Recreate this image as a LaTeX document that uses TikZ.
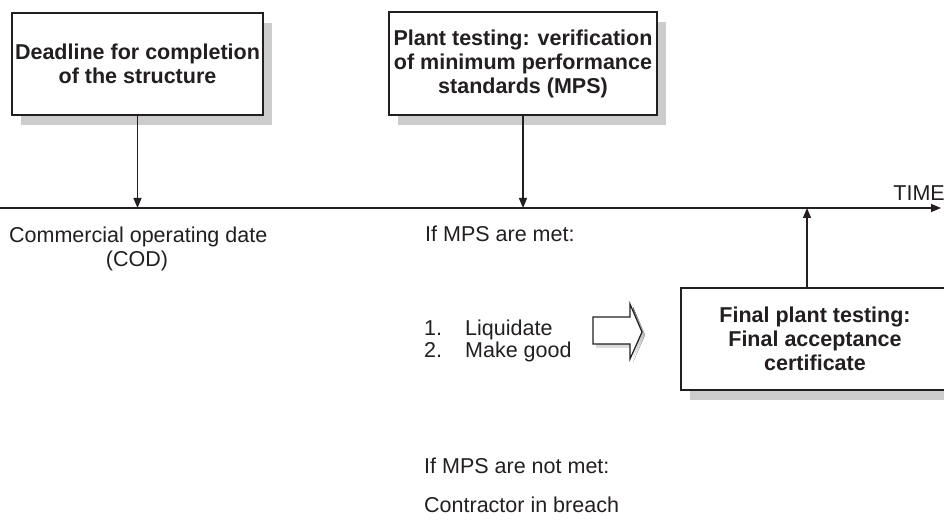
\documentclass[tikz,border=0pt]{standalone}
\usepackage{fontspec}
\setmainfont{Liberation Sans}
\usetikzlibrary{arrows.meta,shadows}
\definecolor{ink}{HTML}{231F20}
\definecolor{shade}{HTML}{CCCCCC}
\begin{document}
\begin{tikzpicture}[x=1pt,y=-1pt,
 font=\fontsize{21.5}{24}\selectfont,
 txt/.style={inner sep=0pt, text=ink},
 box/.style={draw=ink, line width=1.4pt, fill=white, align=center,
   font=\fontsize{21.5}{24}\selectfont\bfseries, text=ink, inner sep=0pt,
   drop shadow={shadow xshift=9pt, shadow yshift=-10pt, fill=shade, opacity=1}},
 conn/.style={draw=ink, line width=1.3pt, -{Triangle[length=10pt,width=8pt]}}
]
\useasboundingbox (0,0) rectangle (944,521);
\fill[white] (0,0) rectangle (944,521);
\clip (0,0) rectangle (944,521);

% boxes
\node[box, minimum width=251pt, minimum height=102pt] (b1) at (137.5,64)
  {Deadline for completion\\of the structure};
\node[box, minimum width=268pt, minimum height=103pt] (b2) at (523,63.5)
  {Plant testing: verification\\of minimum performance\\standards (MPS)};
\node[box, minimum width=268pt, minimum height=102pt] (b3) at (815,339)
  {Final plant testing:\\Final acceptance\\certificate};

% timeline
\coordinate (t0) at (0,208);
\coordinate (t1) at (941,208);
\draw[conn] (t0) -- (t1);
\node[txt, anchor=base east] (time) at (945,201) {TIME};

% connectors
\draw[conn] (b1.south) -- (b1.south |- t0);
\draw[conn] (b2.south) -- (b2.south |- t0);
\draw[conn] ([xshift=-8pt]b3.north) -- ([xshift=-8pt]b3.north |- t0);

% block arrow
\begin{scope}[shift={(3,3)}]
\fill[shade] (593,317) -- (630,317) -- (630,304) -- (642,332) -- (630,359) -- (630,344) -- (593,344) -- cycle;
\end{scope}
\filldraw[fill=white, draw=ink, line width=1.2pt, line join=miter]
  (593,317) -- (630,317) -- (630,304) -- (642,332) -- (630,359) -- (630,344) -- (593,344) -- cycle;

% texts
\node[txt, anchor=base west] (cod) at (9,243) {Commercial operating date};
\node[txt, anchor=base] (cod2) at (137,266) {(COD)};
\node[txt, anchor=base west] (met) at (425,242) {If MPS are met:};
\node[txt, anchor=base west] (n1) at (424,335) {1.};
\node[txt, anchor=base west] (l1) at (465,335) {Liquidate};
\node[txt, anchor=base west] (n2) at (424,357) {2.};
\node[txt, anchor=base west] (l2) at (465,357) {Make good};
\node[txt, anchor=base west] (notmet) at (424,473) {If MPS are not met:};
\node[txt, anchor=base west] (breach) at (424,512) {Contractor in breach};
\end{tikzpicture}
\end{document}
